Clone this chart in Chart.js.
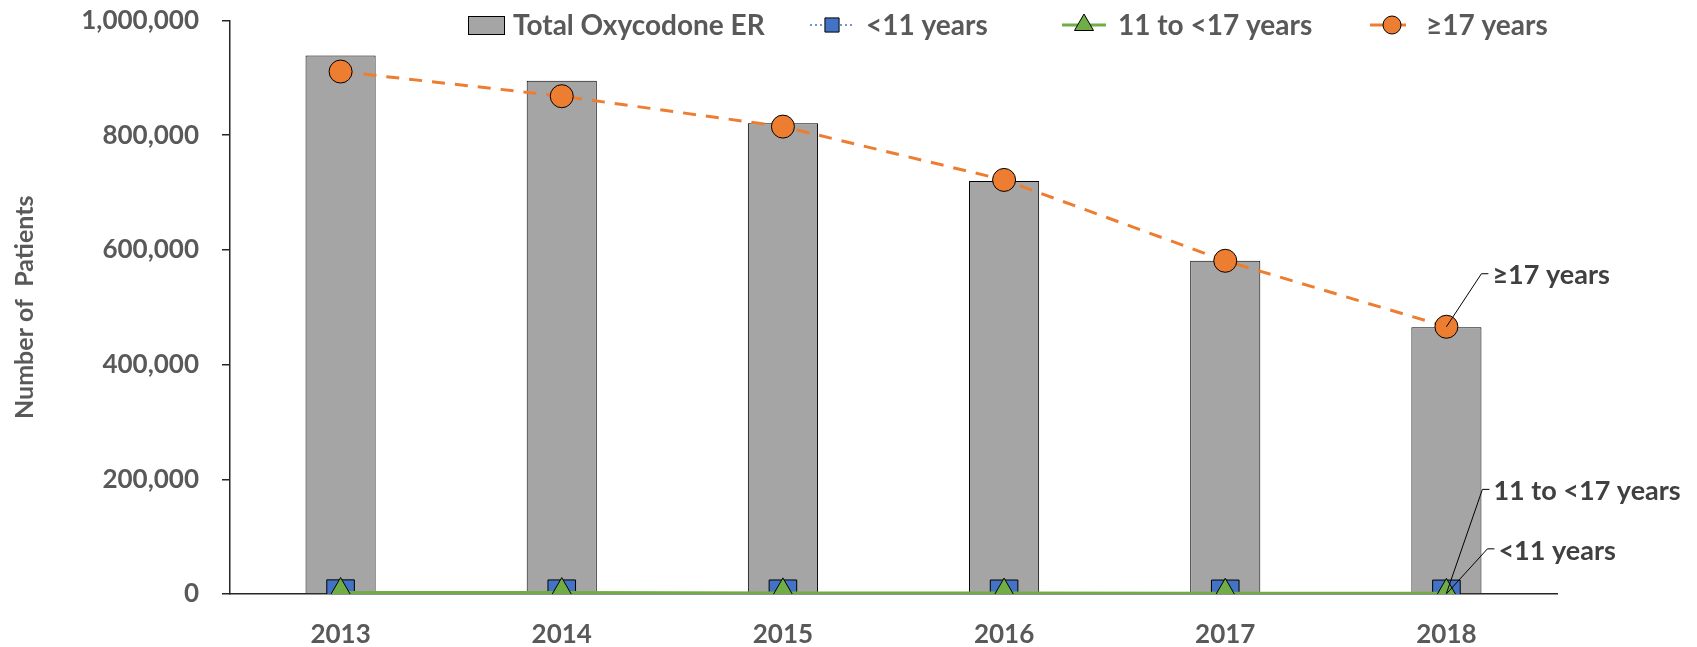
<!DOCTYPE html>
<html>
<head>
<meta charset="utf-8">
<script src="https://cdn.jsdelivr.net/npm/chart.js@4.4.1/dist/chart.umd.min.js"></script>
<style>
  html, body { margin: 0; padding: 0; background: #fff; }
</style>
</head>
<body>
<canvas id="chart" width="1697" height="647"></canvas>
<script>
// ── Data ────────────────────────────────────────────────
const years      = ["2013", "2014", "2015", "2016", "2017", "2018"];
const totalER    = [939000, 895000, 821000, 720000, 581000, 465000];
const under11    = [600, 500, 400, 350, 300, 250];
const age11to17  = [2600, 2400, 1900, 1600, 1300, 1100];
const age17plus  = [911000, 868000, 815000, 722000, 581000, 466000];
const yMax       = 1000000;
const yStep      = 200000;

const seriesNames = ["Total Oxycodone ER", "<11 years", "11 to <17 years", "\u226517 years"];

const FONT   = "Lato";
const GREY   = "#595959";
const DARK   = "#404040";
const AXIS   = "#262626";

// ── Custom legend (Excel style: line + marker) ──────────
// text start x for each legend entry
const legendTextX = [513, 866, 1118, 1426];

const excelLegend = {
  id: "excelLegend",
  afterDraw(chart) {
    const ctx = chart.ctx;
    const y = 25;
    ctx.save();
    ctx.font = `bold 28px ${FONT}`;
    ctx.textBaseline = "middle";
    ctx.textAlign = "left";
    chart.data.datasets.forEach((ds, i) => {
      const tx = legendTextX[i];
      if (ds.type === "bar") {
        ctx.fillStyle = ds.backgroundColor;
        ctx.strokeStyle = ds.borderColor;
        ctx.lineWidth = 1;
        ctx.fillRect(tx - 45, y - 9, 37, 19);
        ctx.strokeRect(tx - 44.5, y - 8.5, 36, 18);
      } else {
        const x0 = tx - 56;
        ctx.strokeStyle = ds.borderColor;
        ctx.lineWidth = ds.borderWidth;
        ctx.setLineDash(ds.borderDash || []);
        ctx.beginPath();
        ctx.moveTo(x0, y);
        ctx.lineTo(x0 + 44, y);
        ctx.stroke();
        ctx.setLineDash([]);
        ctx.fillStyle = ds.pointBackgroundColor;
        ctx.strokeStyle = ds.pointBorderColor;
        ctx.lineWidth = 1;
        Chart.helpers.drawPoint(ctx, {
          pointStyle: ds.pointStyle,
          radius: ds.legendRadius,
          borderWidth: 1,
          rotation: 0
        }, x0 + 22, y);
      }
      ctx.fillStyle = GREY;
      ctx.fillText(ds.label, tx, y + 1);
    });
    ctx.restore();
  }
};

// ── Leader-line labels at the 2018 points ───────────────
const leaderLabels = {
  id: "leaderLabels",
  afterDraw(chart) {
    const ctx = chart.ctx;
    const specs = [
      { idx: 3, dx: 35, dy: -53 },
      { idx: 2, dx: 36, dy: -104 },
      { idx: 1, dx: 41, dy: -45 }
    ];
    ctx.save();
    ctx.font = `bold 27px ${FONT}`;
    ctx.textBaseline = "middle";
    ctx.textAlign = "left";
    specs.forEach(({ idx, dx, dy }) => {
      const meta = chart.getDatasetMeta(idx);
      const pt = meta.data[meta.data.length - 1];
      const ex = pt.x + dx, ey = pt.y + dy;
      ctx.strokeStyle = "#000";
      ctx.lineWidth = 1;
      ctx.beginPath();
      ctx.moveTo(pt.x, pt.y);
      ctx.lineTo(ex, ey);
      ctx.lineTo(ex + 7, ey);
      ctx.stroke();
      ctx.fillStyle = DARK;
      ctx.fillText(chart.data.datasets[idx].label, ex + 11, ey + 2);
    });
    ctx.restore();
  }
};

// ── Chart ───────────────────────────────────────────────
const ctx = document.getElementById("chart").getContext("2d");

new Chart(ctx, {
  data: {
    labels: years,
    datasets: [
      {
        type: "bar",
        label: seriesNames[0],
        data: totalER,
        backgroundColor: "#a5a5a5",
        borderColor: "#000000",
        borderWidth: 1,
        categoryPercentage: 1,
        barPercentage: 0.317,
        order: 4
      },
      {
        type: "line",
        label: seriesNames[1],
        data: under11,
        borderColor: "#4472c4",
        borderWidth: 1.5,
        borderDash: [2, 3],
        pointStyle: "rect",
        pointRadius: 19.5,
        legendRadius: 10,
        pointBackgroundColor: "#4472c4",
        pointBorderColor: "#000000",
        pointBorderWidth: 1,
        order: 3
      },
      {
        type: "line",
        label: seriesNames[2],
        data: age11to17,
        borderColor: "#70ad47",
        borderWidth: 3,
        pointStyle: "triangle",
        pointRadius: 15,
        legendRadius: 11,
        pointBackgroundColor: "#70ad47",
        pointBorderColor: "#000000",
        pointBorderWidth: 1,
        order: 2
      },
      {
        type: "line",
        label: seriesNames[3],
        data: age17plus,
        borderColor: "#ed7d31",
        borderWidth: 3,
        borderDash: [13, 10],
        pointStyle: "circle",
        pointRadius: 11.5,
        legendRadius: 9,
        pointBackgroundColor: "#ed7d31",
        pointBorderColor: "#000000",
        pointBorderWidth: 1,
        order: 1
      }
    ]
  },
  options: {
    responsive: false,
    animation: false,
    layout: { padding: { top: 19, right: 140, bottom: 0, left: 0 } },
    plugins: {
      legend: { display: false },
      tooltip: { enabled: false }
    },
    scales: {
      x: {
        grid: { display: false, drawTicks: false },
        border: { display: true, color: AXIS, width: 1.5 },
        ticks: {
          color: GREY,
          padding: 25,
          font: { family: FONT, size: 26, weight: "bold" }
        },
        afterFit: (scale) => {
          scale.height = 53;
          scale.paddingLeft = 0;
          scale.paddingRight = 0;
        }
      },
      y: {
        min: 0,
        max: yMax,
        ticks: {
          stepSize: yStep,
          color: GREY,
          padding: 23,
          font: { family: FONT, size: 26, weight: "bold" },
          callback: (v) => v.toLocaleString("en-US")
        },
        grid: { drawOnChartArea: false, drawTicks: true, tickLength: 8, color: AXIS, lineWidth: 1.5 },
        border: { display: true, color: AXIS, width: 1.5 },
        title: {
          display: true,
          text: "Number of  Patients",
          color: GREY,
          font: { family: FONT, size: 25, weight: "bold" },
          padding: { top: 10, bottom: 0 }
        },
        afterFit: (scale) => {
          scale.width = 230;
          scale.paddingTop = 0;
          scale.paddingBottom = 0;
        }
      }
    }
  },
  plugins: [excelLegend, leaderLabels]
});
</script>
</body>
</html>
